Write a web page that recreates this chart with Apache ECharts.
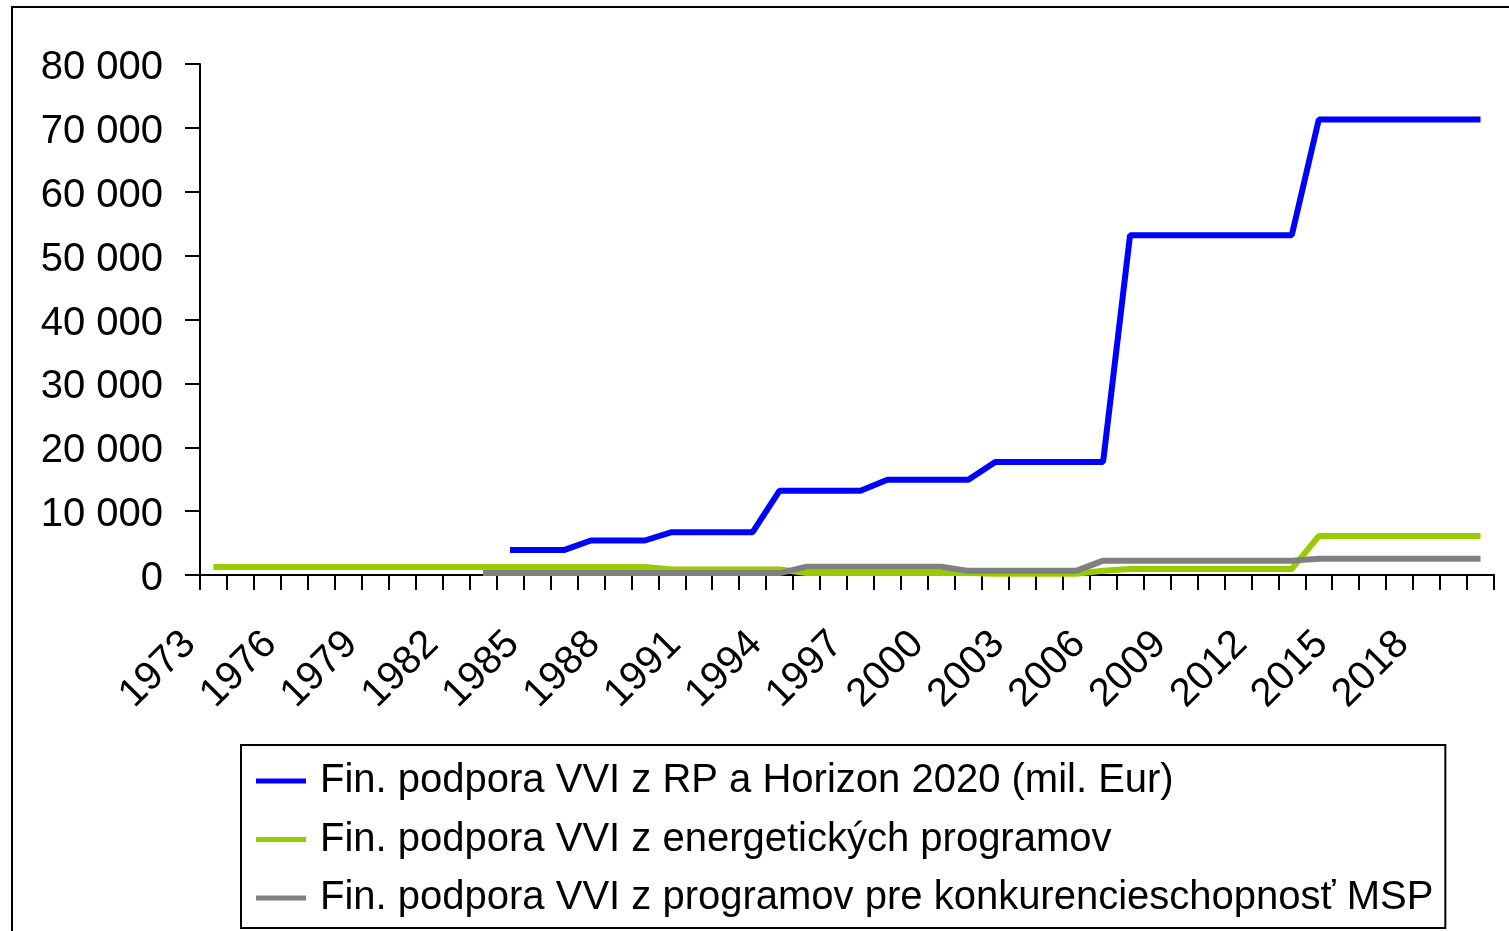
<!DOCTYPE html>
<html>
<head>
<meta charset="utf-8">
<script src="https://cdn.jsdelivr.net/npm/echarts@6/dist/echarts.min.js"></script>
<style>
html,body{margin:0;padding:0;background:#fff;}
#chart{width:1509px;height:931px;}
</style>
</head>
<body>
<div id="chart"></div>
<script>
const years = [];
for (let y = 1973; y <= 2020; y++) years.push(String(y));

const seriesNames = [
  'Fin. podpora VVI z RP a Horizon 2020 (mil. Eur)',
  'Fin. podpora VVI z energetických programov',
  'Fin. podpora VVI z programov pre konkurencieschopnosť MSP'
];

// 1973 ... 2020
const rpHorizon = [
  null,null,null,null,null,null,null,null,null,null,null, // 1973-1983
  3900,3900,3900,                 // 1984-1986
  5400,5400,5400,                 // 1987-1989
  6700,6700,6700,6700,            // 1990-1993
  13200,13200,13200,13200,        // 1994-1997
  14900,14900,14900,14900,        // 1998-2001
  17700,17700,17700,17700,17700,  // 2002-2006
  53200,53200,53200,53200,53200,53200,53200, // 2007-2013
  71300,71300,71300,71300,71300,71300,71300  // 2014-2020
];

const energy = [
  1250,1250,1250,1250,1250,1250,1250,1250,1250,1250, // 1973-1982
  1250,1250,1250,1250,1250,1250,1250,                // 1983-1989
  850,850,850,850,850,                               // 1990-1994
  300,300,300,300,300,300,300,                       // 1995-2001
  200,200,200,200,                                   // 2002-2005
  650,                                               // 2006
  950,950,950,950,950,950,950,                       // 2007-2013
  6100,6100,6100,6100,6100,6100,6100                 // 2014-2020
];

const msp = [
  null,null,null,null,null,null,null,null,null,null, // 1973-1982
  300,300,300,300,300,300,300,300,300,300,300,300,   // 1983-1994
  1300,1300,1300,1300,1300,1300,                     // 1995-2000
  650,650,650,650,650,                               // 2001-2005
  2250,2250,2250,2250,2250,2250,2250,2250,           // 2006-2013
  2550,2550,2550,2550,2550,2550,2550                 // 2014-2020
];

const yTicks = { min: 0, max: 80000, interval: 10000 };
const colors = ['#0000FF', '#99CC00', '#808080'];
const FONT = '"Liberation Sans", Arial, sans-serif';

const chart = echarts.init(document.getElementById('chart'), null, { renderer: 'canvas' });

const fmt = v => '{a|' + String(v).replace(/\B(?=(\d{3})+(?!\d))/g, ' ') + '}';

const dataSets = [rpHorizon, energy, msp];

chart.setOption({
  animation: false,
  backgroundColor: '#ffffff',
  graphic: [{
    type: 'rect',
    shape: { x: 12, y: 7, width: 1600, height: 1000 },
    style: { fill: 'none', stroke: '#000', lineWidth: 2 },
    silent: true,
    z: 100
  }],
  grid: { left: 200, right: 15, top: 64, bottom: 356 },
  legend: {
    orient: 'vertical',
    left: 241,
    top: 745,
    padding: [14, 12, 8, 15],
    borderColor: '#000',
    borderWidth: 2,
    icon: 'rect',
    itemWidth: 50,
    itemHeight: 5,
    itemGap: 14.5,
    textStyle: { fontFamily: FONT, fontSize: 40, color: '#000', lineHeight: 44, padding: [0, 0, 0, 9] },
    data: seriesNames
  },
  xAxis: {
    type: 'category',
    data: years,
    boundaryGap: true,
    axisLine: { lineStyle: { color: '#000', width: 2 } },
    axisTick: { show: true, interval: 0, length: 15, lineStyle: { color: '#000', width: 2 } },
    axisLabel: {
      interval: 2,
      rotate: 45,
      margin: 39,
      padding: [0, 34, 0, 0],
      fontFamily: FONT,
      fontSize: 40,
      color: '#000'
    },
    splitLine: { show: false }
  },
  yAxis: {
    type: 'value',
    min: yTicks.min,
    max: yTicks.max,
    interval: yTicks.interval,
    axisLine: { show: true, lineStyle: { color: '#000', width: 2 } },
    axisTick: { show: true, length: 15, lineStyle: { color: '#000', width: 2 } },
    axisLabel: {
      margin: 37,
      fontFamily: FONT,
      fontSize: 40,
      color: '#000',
      formatter: fmt,
      rich: {
        a: { fontFamily: FONT, fontSize: 40, color: '#000', padding: [8, 0, 0, 0] }
      }
    },
    splitLine: { show: false }
  },
  series: seriesNames.map((name, i) => ({
    name,
    type: 'line',
    data: dataSets[i],
    symbol: 'none',
    color: colors[i],
    lineStyle: { color: colors[i], width: 6 },
    itemStyle: { color: colors[i] },
    connectNulls: false
  }))
});
</script>
</body>
</html>
